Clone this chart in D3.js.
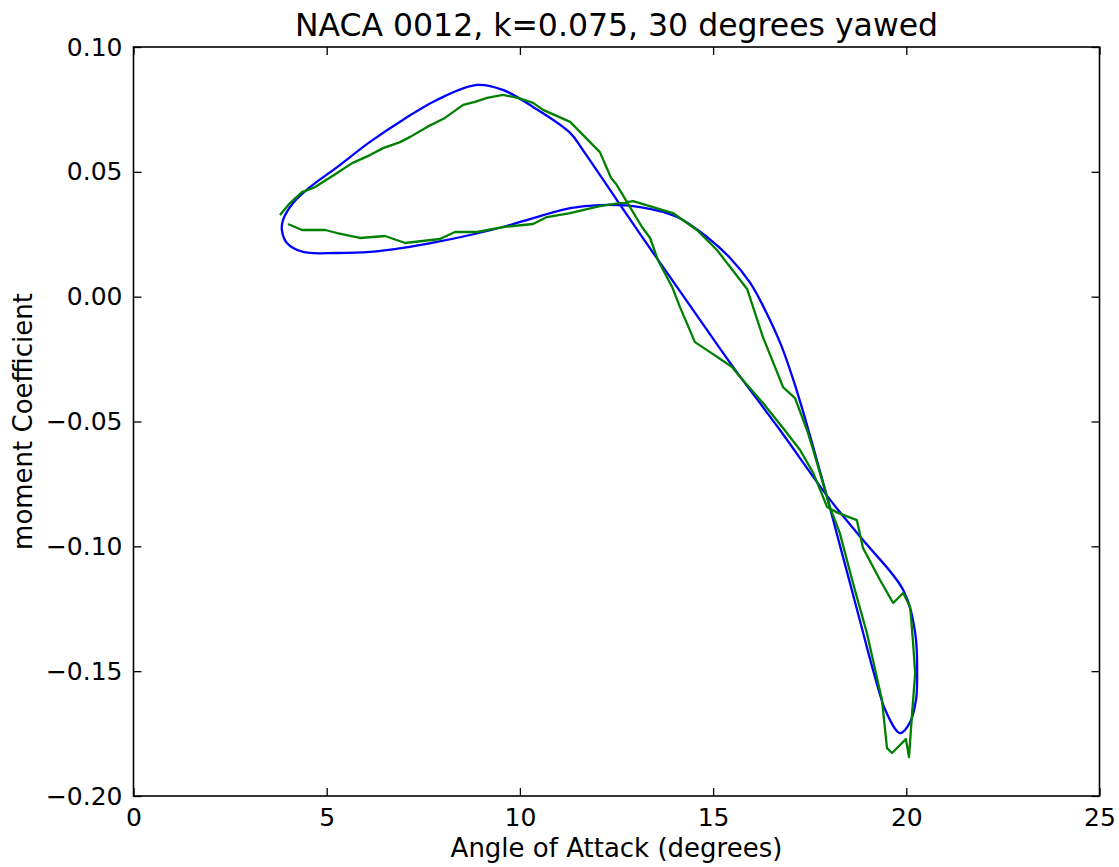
<!DOCTYPE html>
<html>
<head>
<meta charset="utf-8">
<script src="https://cdn.jsdelivr.net/npm/d3@7"></script>
<style>
  html, body { margin: 0; padding: 0; background: #fff; }
  text { font-family: "DejaVu Sans", sans-serif; fill: #000; }
</style>
</head>
<body>
<svg id="chart" width="1119" height="867"></svg>
<script>
// ---- data ----
const titleText = "NACA 0012, k=0.075, 30 degrees yawed";
const xLabelText = "Angle of Attack (degrees)";
const yLabelText = "moment Coefficient";
const xTicks = [0, 5, 10, 15, 20, 25];
const yTicks = [0.10, 0.05, 0.00, -0.05, -0.10, -0.15, -0.20];
const yTickLabels = ["0.10", "0.05", "0.00", "\u22120.05", "\u22120.10", "\u22120.15", "\u22120.20"];

// theory (blue, smooth closed loop)
const blueAngle = [3.84, 3.97, 4.39, 5.27, 6.12, 6.97, 7.85, 8.71, 9.56, 10.44, 11.30, 12.07, 13.11, 14.07, 14.84, 15.44, 15.96, 16.37, 16.76, 17.12, 17.40, 17.72, 17.97, 18.28, 18.57, 18.85, 19.16, 19.48, 19.84, 20.10, 20.25, 20.28, 20.23, 19.92, 18.88, 18.03, 16.73, 15.52, 14.66, 13.63, 12.51, 11.63, 11.30, 10.34, 9.56, 8.89, 7.85, 6.97, 6.12, 5.27, 4.57, 4.13, 3.87];
const blueMoment = [0.0267, 0.0215, 0.0179, 0.0175, 0.0179, 0.0195, 0.0219, 0.0247, 0.0279, 0.0319, 0.0355, 0.0367, 0.0359, 0.0319, 0.0239, 0.0155, 0.0055, -0.0061, -0.0194, -0.0354, -0.0498, -0.0674, -0.0814, -0.0995, -0.1163, -0.1327, -0.1507, -0.1664, -0.1748, -0.1704, -0.1616, -0.1535, -0.1347, -0.1175, -0.0975, -0.0814, -0.0534, -0.0282, -0.0093, 0.0135, 0.0387, 0.0587, 0.0656, 0.0760, 0.0828, 0.0848, 0.0788, 0.0708, 0.0620, 0.0519, 0.0439, 0.0375, 0.0307];

// experiment (green, jagged open curve)
const greenAngle = [4.00, 4.36, 4.96, 5.27, 5.86, 6.51, 7.03, 7.93, 8.32, 8.89, 9.56, 10.34, 10.70, 11.30, 12.07, 12.93, 13.96, 14.58, 15.10, 15.88, 16.29, 16.81, 17.12, 17.43, 17.59, 17.84, 18.03, 18.28, 18.62, 18.98, 19.37, 19.50, 19.63, 19.99, 20.07, 20.15, 20.23, 20.17, 20.10, 19.92, 19.66, 19.32, 18.88, 18.72, 18.23, 17.95, 17.59, 17.25, 16.81, 16.29, 15.70, 15.49, 14.92, 14.53, 14.14, 13.94, 13.57, 13.37, 13.16, 12.85, 12.51, 12.36, 12.07, 11.30, 10.60, 10.34, 9.95, 9.56, 9.15, 8.84, 8.53, 8.06, 7.60, 7.16, 6.90, 6.46, 6.12, 5.66, 5.27, 4.70, 4.36, 4.05, 3.79];
const greenMoment = [0.0291, 0.0267, 0.0267, 0.0255, 0.0235, 0.0243, 0.0215, 0.0231, 0.0259, 0.0259, 0.0279, 0.0291, 0.0319, 0.0335, 0.0363, 0.0383, 0.0335, 0.0267, 0.0187, 0.0031, -0.0162, -0.0362, -0.0406, -0.0534, -0.0614, -0.0746, -0.0846, -0.0947, -0.1147, -0.1347, -0.1615, -0.1808, -0.1828, -0.1772, -0.1844, -0.1668, -0.1507, -0.1375, -0.1243, -0.1187, -0.1227, -0.1135, -0.1007, -0.0895, -0.0866, -0.0842, -0.0706, -0.0614, -0.0526, -0.0426, -0.0322, -0.0282, -0.0222, -0.0182, -0.0041, 0.0039, 0.0147, 0.0235, 0.0279, 0.0359, 0.0447, 0.0475, 0.0579, 0.0700, 0.0748, 0.0776, 0.0796, 0.0808, 0.0796, 0.0780, 0.0768, 0.0716, 0.0680, 0.0640, 0.0619, 0.0595, 0.0567, 0.0535, 0.0495, 0.0439, 0.0419, 0.0375, 0.0327];

// ---- layout ----
const W = 1119, H = 867;
const plot = { left: 133.5, right: 1099.5, top: 47, bottom: 796 };
const svg = d3.select("#chart");
svg.append("rect").attr("width", W).attr("height", H).attr("fill", "#fff");

const x = d3.scaleLinear().domain([0, 25]).range([plot.left, plot.right]);
const y = d3.scaleLinear().domain([-0.20, 0.10]).range([plot.bottom, plot.top]);

const tickLen = 8;
const fontSize = 25;

// curves
const blueData = blueAngle.map((a, i) => [a, blueMoment[i]]);
const greenData = greenAngle.map((a, i) => [a, greenMoment[i]]);

svg.append("path")
  .datum(blueData)
  .attr("fill", "none")
  .attr("stroke", "#0000ff")
  .attr("stroke-width", 2.3)
  .attr("stroke-linejoin", "round")
  .attr("d", d3.line().x(d => x(d[0])).y(d => y(d[1])).curve(d3.curveCatmullRomClosed.alpha(0.5)));

svg.append("path")
  .datum(greenData)
  .attr("fill", "none")
  .attr("stroke", "#008000")
  .attr("stroke-width", 2.3)
  .attr("stroke-linejoin", "round")
  .attr("d", d3.line().x(d => x(d[0])).y(d => y(d[1])));

// axes: bottom & top (ticks inward)
const xAxisB = d3.axisBottom(x).tickValues(xTicks).tickSizeInner(-tickLen).tickSizeOuter(0).tickPadding(12).tickFormat(d3.format("d"));
const xAxisT = d3.axisTop(x).tickValues(xTicks).tickSizeInner(-tickLen).tickSizeOuter(0).tickFormat("");
const yAxisL = d3.axisLeft(y).tickValues(yTicks).tickSizeInner(-tickLen).tickSizeOuter(0).tickPadding(11).tickFormat((d, i) => yTickLabels[i]);
const yAxisR = d3.axisRight(y).tickValues(yTicks).tickSizeInner(-tickLen).tickSizeOuter(0).tickFormat("");

function styleAxis(g) {
  g.select(".domain").remove();
  g.selectAll(".tick line").attr("stroke", "#000").attr("stroke-width", 1.3);
  g.selectAll(".tick text").attr("font-family", "DejaVu Sans, sans-serif").attr("font-size", fontSize).attr("fill", "#000");
}
svg.append("g").attr("transform", `translate(0,${plot.bottom})`).call(xAxisB).call(styleAxis);
svg.append("g").attr("transform", `translate(0,${plot.top})`).call(xAxisT).call(styleAxis);
svg.append("g").attr("transform", `translate(${plot.left},0)`).call(yAxisL).call(styleAxis);
svg.append("g").attr("transform", `translate(${plot.right},0)`).call(yAxisR).call(styleAxis);

// frame
svg.append("rect")
  .attr("x", plot.left).attr("y", plot.top)
  .attr("width", plot.right - plot.left).attr("height", plot.bottom - plot.top)
  .attr("fill", "none").attr("stroke", "#000").attr("stroke-width", 1.6);

// title and labels
svg.append("text")
  .attr("x", (plot.left + plot.right) / 2).attr("y", 36)
  .attr("text-anchor", "middle").attr("font-size", 31.5)
  .text(titleText);

svg.append("text")
  .attr("x", (plot.left + plot.right) / 2).attr("y", 857)
  .attr("text-anchor", "middle").attr("font-size", 26)
  .text(xLabelText);

svg.append("text")
  .attr("transform", `translate(32,${(plot.top + plot.bottom) / 2}) rotate(-90)`)
  .attr("text-anchor", "middle").attr("font-size", 26)
  .text(yLabelText);
</script>
</body>
</html>
